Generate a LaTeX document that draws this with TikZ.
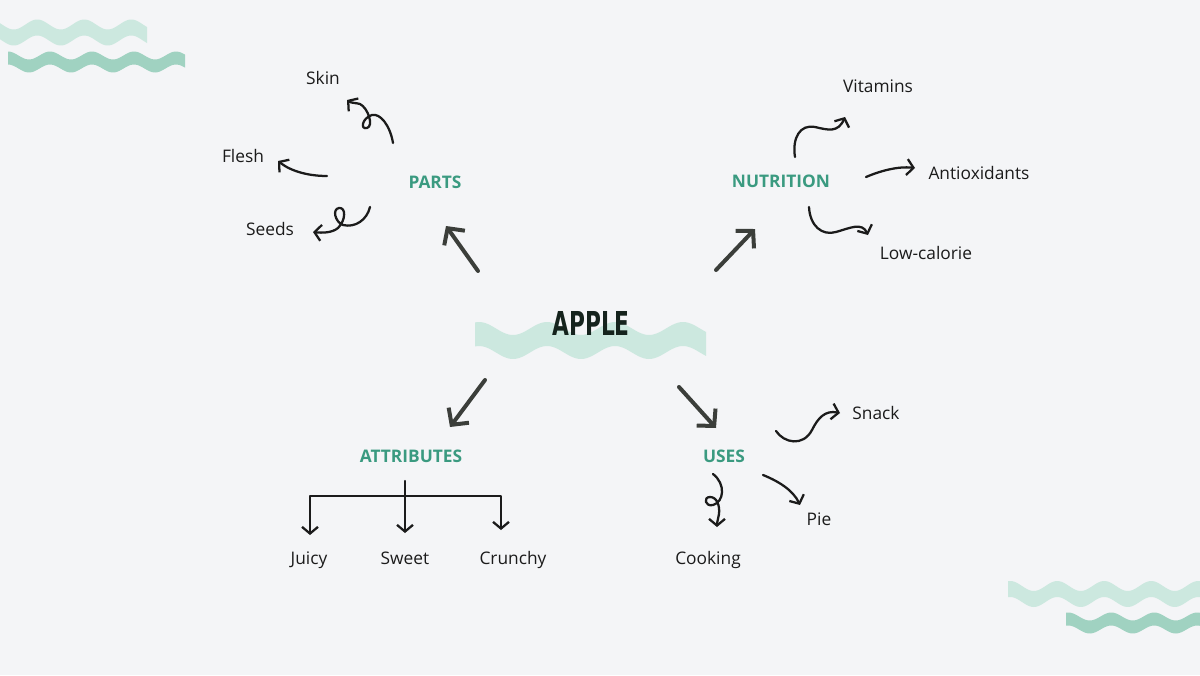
\documentclass[tikz,border=0pt]{standalone}
\usepackage{fontspec}
\setmainfont{Open Sans}
\newfontfamily\applefont{DejaVu Sans}
\usetikzlibrary{arrows.meta, calc}

\definecolor{bgcol}{HTML}{F4F5F7}
\definecolor{headcol}{HTML}{3A9A80}
\definecolor{wavelight}{HTML}{CCE8DF}
\definecolor{wavedark}{HTML}{A0D2C1}
\definecolor{arrowgray}{HTML}{3B3E3A}
\definecolor{inkcol}{HTML}{1B1B1B}
\definecolor{applecol}{HTML}{15231D}

% colour, x from, x to, y centre, amplitude, period, phase, thickness
\newcommand{\wavyband}[8]{%
  \fill[#1] plot[domain=#2:#3, samples=90] (\x, {#4-#8/2+#5*sin(360/#6*(\x-#7))})
    -- plot[domain=#3:#2, samples=90] (\x, {#4+#8/2+#5*sin(360/#6*(\x-#7))}) -- cycle;}

\begin{document}
\begin{tikzpicture}[
    x=0.75pt, y=-0.75pt,
    word/.style={font=\fontsize{13}{15}\selectfont, text=inkcol, inner sep=0pt, text height=9.3pt, text depth=0pt},
    head/.style={font=\fontsize{13}{15}\selectfont\bfseries, text=headcol, inner sep=0pt, text height=9.3pt, text depth=0pt},
    bigarrow/.style={-{Straight Barb[length=9pt,width=19pt]}, line width=3pt, draw=arrowgray, line cap=round},
    inkarrow/.style={-{Straight Barb[length=5pt,width=12pt]}, line width=1.7pt, draw=inkcol, line cap=round, line join=round}
]
    \path[use as bounding box, fill=bgcol] (0,0) rectangle (1200,675);

    % decoration waves
    \wavyband{wavelight}{0}{147}{32.5}{5}{47}{2}{16}
    \wavyband{wavedark}{8}{185}{62}{4}{42}{-23.5}{13}
    \wavyband{wavelight}{1008}{1200}{594}{5}{47}{975}{16}
    \wavyband{wavedark}{1066}{1200}{623}{4}{43}{1036}{13}
    \wavyband{wavelight}{475}{706}{340.5}{6.5}{68}{496}{24}

    \node[inner sep=0pt, text=applecol, font=\applefont\bfseries\fontsize{24.7}{26}\selectfont, text height=18pt, text depth=0pt] (apple) at (591,323) {\scalebox{0.66}[1]{APPLE}};

    \node[head] (parts) at (435,182) {PARTS};
    \node[word] (skin) at (323,78) {Skin};
    \node[word] (flesh) at (243,156) {Flesh};
    \node[word] (seeds) at (270,229) {Seeds};

    \node[head] (nutrition) at (781,181) {NUTRITION};
    \node[word] (vitamins) at (878,86) {Vitamins};
    \node[word] (antiox) at (979,173) {Antioxidants};
    \node[word] (lowcal) at (926,253) {Low-calorie};

    \node[head] (attributes) at (411,456) {ATTRIBUTES};
    \node[word] (juicy) at (309,558) {Juicy};
    \node[word] (sweet) at (405,558) {Sweet};
    \node[word] (crunchy) at (513,558) {Crunchy};

    \node[head] (uses) at (724,456) {USES};
    \node[word] (snack) at (876,413) {Snack};
    \node[word] (pie) at (819,519) {Pie};
    \node[word] (cooking) at (708,558) {Cooking};

    % main branches
    \draw[bigarrow] ([shift={(-113,-52)}]apple.center) -- ([shift={(11,44)}]parts.center);
    \draw[bigarrow] ([shift={(125,-53)}]apple.center) -- ([shift={(-26,48)}]nutrition.center);
    \draw[bigarrow] ([shift={(-106,57)}]apple.center) -- ([shift={(39,-29)}]attributes.center);
    \draw[bigarrow] ([shift={(88,64)}]apple.center) -- ([shift={(-8,-28)}]uses.center);

    % parts
    \draw[inkarrow] ([shift={(-42,-39)}]parts.center) .. controls (390,125) and (380,113) .. (372,115)
        .. controls (362,118) and (360,130) .. (367,128) .. controls (374,126) and (368,108) .. (360,104)
        .. controls (357,103) and (351,103) .. ([shift={(24,22)}]skin.center);
    \draw[inkarrow] ([shift={(-108,-6)}]parts.center) .. controls (310,176) and (292,172) .. ([shift={(35,5)}]flesh.center);
    \draw[inkarrow] ([shift={(-65,25)}]parts.center) .. controls (367,220) and (355,228) .. (343,225)
        .. controls (335,222) and (332,209) .. (339,208) .. controls (346,207) and (346,220) .. (338,228)
        .. controls (332,233) and (322,233) .. ([shift={(43,3)}]seeds.center);

    % nutrition
    \draw[inkarrow] ([shift={(14,-24)}]nutrition.center) .. controls (792,138) and (800,124) .. (815,127)
        .. controls (828,130) and (838,133) .. ([shift={(-33,31)}]vitamins.center);
    \draw[inkarrow] ([shift={(85,-4)}]nutrition.center) .. controls (880,171) and (898,166) .. ([shift={(-64,-5)}]antiox.center);
    \draw[inkarrow] ([shift={(28,26)}]nutrition.center) .. controls (810,226) and (822,236) .. (836,232)
        .. controls (850,228) and (862,222) .. ([shift={(-58,-18)}]lowcal.center);

    % attributes
    \coordinate (fork) at ([shift={(-6,40)}]attributes.center);
    \draw[inkarrow] ([shift={(-6,25)}]attributes.center) -- ([shift={(0,-25)}]sweet.center);
    \draw[inkarrow] (fork) -| ([shift={(1,-23)}]juicy.center);
    \draw[inkarrow] (fork) -| ([shift={(-12,-28)}]crunchy.center);

    % uses
    \draw[inkarrow] ([shift={(52,-25)}]uses.center) .. controls (784,443) and (803,447) .. (812,430)
        .. controls (818,418) and (825,410) .. ([shift={(-36,0)}]snack.center);
    \draw[inkarrow] ([shift={(39,19)}]uses.center) .. controls (778,481) and (793,490) .. ([shift={(-19,-14)}]pie.center);
    \draw[inkarrow] ([shift={(-11,18)}]uses.center) .. controls (726,484) and (724,502) .. (713,505)
        .. controls (705,507) and (703,497) .. (710,497) .. controls (717,497) and (720,506) .. (719,514)
        .. controls (718,519) and (717,523) .. ([shift={(9,-31)}]cooking.center);
\end{tikzpicture}
\end{document}
